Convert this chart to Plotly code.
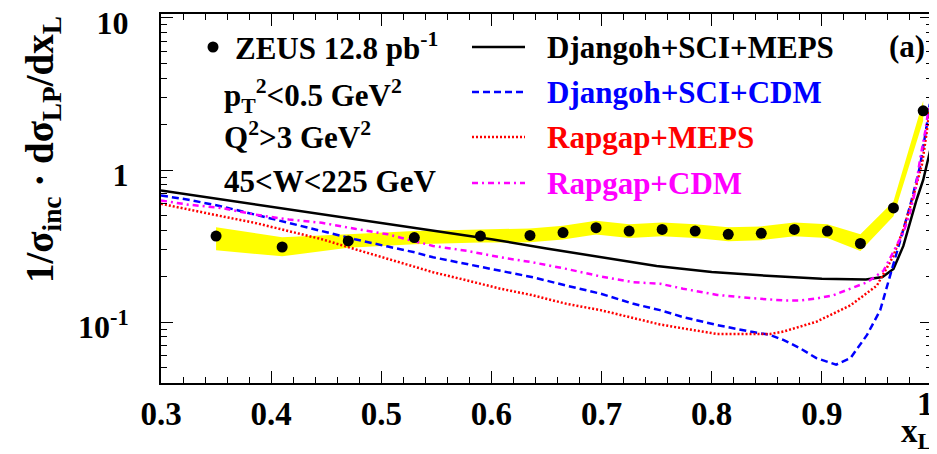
import plotly.graph_objects as go

# ---------------- data ----------------
x_data = [0.35, 0.41, 0.47, 0.53, 0.59, 0.635, 0.665, 0.695, 0.725, 0.755,
          0.785, 0.815, 0.845, 0.875, 0.905, 0.935, 0.965, 0.992]
y_data = [0.368, 0.312, 0.342, 0.360, 0.368, 0.372, 0.388, 0.418, 0.397, 0.407,
          0.397, 0.378, 0.384, 0.407, 0.397, 0.329, 0.564, 2.45]
band_hi = [0.420, 0.362, 0.378, 0.397, 0.407, 0.413, 0.431, 0.464, 0.441, 0.452,
           0.441, 0.420, 0.426, 0.452, 0.441, 0.378, 0.622, 2.85]
band_lo = [0.297, 0.271, 0.308, 0.325, 0.334, 0.335, 0.350, 0.377, 0.358, 0.367,
           0.358, 0.341, 0.346, 0.367, 0.358, 0.294, 0.497, 2.11]

x_dj_meps = [0.30, 0.35, 0.40, 0.45, 0.50, 0.55, 0.60, 0.65, 0.70, 0.75, 0.80,
             0.85, 0.90, 0.94, 0.955, 0.965, 0.974, 0.980, 0.986, 0.992, 0.9967, 0.999]
y_dj_meps = [0.733, 0.648, 0.574, 0.509, 0.451, 0.398, 0.351, 0.305, 0.266, 0.234, 0.214,
             0.202, 0.193, 0.191, 0.198, 0.224, 0.317, 0.45, 0.638, 0.86, 1.22, 1.41]

x_dj_cdm = [0.30, 0.325, 0.355, 0.385, 0.416, 0.446, 0.476, 0.506, 0.531, 0.547, 0.578,
            0.608, 0.638, 0.668, 0.699, 0.729, 0.753, 0.774, 0.805, 0.835, 0.853, 0.865,
            0.880, 0.895, 0.913, 0.926, 0.941, 0.953, 0.962, 0.968, 0.974, 0.980, 0.985,
            0.989, 0.995, 0.998]
y_dj_cdm = [0.680, 0.638, 0.577, 0.510, 0.450, 0.397, 0.351, 0.314, 0.287, 0.267, 0.241,
            0.218, 0.197, 0.174, 0.154, 0.132, 0.120, 0.108, 0.0957, 0.0867, 0.0824, 0.0764,
            0.0675, 0.058, 0.0526, 0.058, 0.0824, 0.120, 0.202, 0.287, 0.40, 0.577, 0.80,
            1.05, 1.91, 2.72]

x_rg_meps = [0.30, 0.325, 0.355, 0.385, 0.416, 0.446, 0.476, 0.506, 0.531, 0.547, 0.578,
             0.608, 0.638, 0.668, 0.699, 0.729, 0.753, 0.774, 0.805, 0.835, 0.853, 0.865,
             0.895, 0.926, 0.950, 0.965, 0.974, 0.983, 0.991, 0.995, 0.998]
y_rg_meps = [0.600, 0.549, 0.497, 0.450, 0.397, 0.351, 0.302, 0.260, 0.229, 0.213, 0.188,
             0.166, 0.150, 0.132, 0.120, 0.106, 0.0966, 0.091, 0.0836, 0.0836, 0.0836, 0.0867,
             0.1006, 0.129, 0.174, 0.273, 0.407, 0.67, 1.10, 1.73, 2.58]

x_rg_cdm = [0.30, 0.325, 0.355, 0.385, 0.416, 0.446, 0.476, 0.506, 0.547, 0.578, 0.608,
            0.638, 0.668, 0.699, 0.729, 0.753, 0.774, 0.805, 0.835, 0.865, 0.880, 0.895,
            0.910, 0.926, 0.941, 0.956, 0.968, 0.974, 0.980, 0.985, 0.989, 0.994, 0.997]
y_rg_cdm = [0.631, 0.592, 0.563, 0.510, 0.473, 0.45, 0.411, 0.378, 0.317, 0.294, 0.267,
            0.247, 0.224, 0.200, 0.183, 0.179, 0.166, 0.151, 0.144, 0.139, 0.139, 0.143,
            0.15, 0.166, 0.183, 0.218, 0.317, 0.388, 0.523, 0.741, 1.16, 1.82, 2.58]

x_tickvals = [0.3, 0.4, 0.5, 0.6, 0.7, 0.8, 0.9]
x_ticktext = ["0.3", "0.4", "0.5", "0.6", "0.7", "0.8", "0.9"]
x_last_tick = "1"          # drawn as an annotation so it is not clipped by the page edge
y_tickvals = [0.1, 1, 10]
y_ticktext = ["10<sup>-1</sup>", "1", "10"]
y_minorvals = [0.05, 0.06, 0.07, 0.08, 0.09, 0.2, 0.3, 0.4, 0.5, 0.6, 0.7, 0.8, 0.9,
               2, 3, 4, 5, 6, 7, 8, 9]

legend_names = ["Djangoh+SCI+MEPS", "Djangoh+SCI+CDM", "Rapgap+MEPS", "Rapgap+CDM"]
legend_colors = ["black", "#0000ff", "#ff0000", "#ff00ff"]
legend_dashes = ["solid", "7px,4px", "2px,2px", "6px,4px,2px,4px"]
info_lines = ["p<sub>T</sub><sup>2</sup><0.5 GeV<sup>2</sup>",
              "Q<sup>2</sup>>3 GeV<sup>2</sup>",
              "45<W<225 GeV"]

FONT = "Liberation Serif"
# the page body has an 8px margin, so the figure is shrunk by that amount
OFF = 8
PAGE_W, PAGE_H = 937, 454
W, H = PAGE_W - OFF, PAGE_H - OFF
PLOT_L, PLOT_R, PLOT_T, PLOT_B = 161, 932, 14, 383   # page pixel frame of the plot area
L, T = PLOT_L - OFF, PLOT_T - OFF
R, B = PAGE_W - PLOT_R, PAGE_H - PLOT_B
PW, PH = PLOT_R - PLOT_L, PLOT_B - PLOT_T


def px(xp):
    return (xp - PLOT_L) / PW


def py(yp):
    return (PLOT_B - yp) / PH


fig = go.Figure()

# systematic band
fig.add_trace(go.Scatter(
    x=x_data + x_data[::-1], y=band_hi + band_lo[::-1],
    fill="toself", fillcolor="#ffff00", line=dict(width=0), mode="lines",
    hoverinfo="skip"))

curves = [(x_dj_meps, y_dj_meps), (x_dj_cdm, y_dj_cdm),
          (x_rg_meps, y_rg_meps), (x_rg_cdm, y_rg_cdm)]
for (xs, ys), name, col, dash in zip(curves, legend_names, legend_colors, legend_dashes):
    fig.add_trace(go.Scatter(x=xs, y=ys, mode="lines", name=name,
                             line=dict(color=col, width=2.5, dash=dash)))

fig.add_trace(go.Scatter(x=x_data, y=y_data, mode="markers", name="ZEUS",
                         marker=dict(color="black", size=11)))

annotations = []
shapes = []
TS = 31
tfont = dict(family=FONT, size=TS, color="black", weight="bold")

# ZEUS legend entry
shapes.append(dict(type="circle", xref="paper", yref="paper",
                   x0=px(213 - 5.5), x1=px(213 + 5.5), y0=py(47 + 5.5), y1=py(47 - 5.5),
                   fillcolor="black", line=dict(width=0)))
annotations.append(dict(text="ZEUS 12.8 pb<sup>-1</sup>", x=px(233), y=py(46),
                        xref="paper", yref="paper", xanchor="left", yanchor="middle",
                        showarrow=False, font=tfont))
for txt, yp in zip(info_lines, [96, 135, 181]):
    annotations.append(dict(text=txt, x=px(222), y=py(yp), xref="paper", yref="paper",
                            xanchor="left", yanchor="middle", showarrow=False, font=tfont))

# model legend
for name, col, dash, yp in zip(legend_names, legend_colors, legend_dashes, [47, 92, 137, 183]):
    shapes.append(dict(type="line", xref="paper", yref="paper",
                       x0=px(472), x1=px(525), y0=py(yp), y1=py(yp),
                       line=dict(color=col, width=2.5, dash=dash)))
    annotations.append(dict(text=name, x=px(545), y=py(yp), xref="paper", yref="paper",
                            xanchor="left", yanchor="middle", showarrow=False,
                            font=dict(family=FONT, size=TS, color=col, weight="bold")))

annotations.append(dict(text="(a)", x=px(907), y=py(46), xref="paper", yref="paper",
                        xanchor="center", yanchor="middle", showarrow=False, font=tfont))

# last x tick label (at the frame's right edge)
annotations.append(dict(text=x_last_tick, x=px(936), y=py(404), xref="paper", yref="paper",
                        xanchor="right", yanchor="middle", showarrow=False,
                        font=dict(family=FONT, size=33, color="black", weight="bold")))

# axis titles
annotations.append(dict(text="1/σ<sub>inc</sub> · dσ<sub>LP</sub>/dx<sub>L</sub>",
                        x=px(42), y=py(150), xref="paper", yref="paper", textangle=-90,
                        xanchor="center", yanchor="middle", showarrow=False,
                        font=dict(family=FONT, size=39, color="black", weight="bold")))
annotations.append(dict(text="x<sub>L</sub>", x=px(935), y=py(433), xref="paper", yref="paper",
                        xanchor="right", yanchor="middle", showarrow=False,
                        font=dict(family=FONT, size=33, color="black", weight="bold")))

fig.update_layout(
    width=W, height=H, margin=dict(l=L, r=R, t=T, b=B, autoexpand=False),
    plot_bgcolor="white", paper_bgcolor="white", showlegend=False,
    annotations=annotations, shapes=shapes,
    xaxis=dict(range=[0.3, 1.0], tickvals=x_tickvals, ticktext=x_ticktext,
               ticks="inside", ticklen=12, tickwidth=1.2, tickcolor="black",
               minor=dict(ticks="inside", dtick=0.02, ticklen=6, tickcolor="black", tickwidth=1),
               showline=True, linecolor="black", linewidth=2, mirror="allticks",
               showgrid=False, zeroline=False, ticklabeloverflow="allow",
               tickfont=dict(family=FONT, size=33, color="black", weight="bold")),
    yaxis=dict(type="log", range=[-1.40, 1.026], tickvals=y_tickvals, ticktext=y_ticktext,
               ticks="inside", ticklen=12, tickwidth=1.2, tickcolor="black",
               minor=dict(ticks="inside", tickvals=y_minorvals, ticklen=6,
                          tickcolor="black", tickwidth=1),
               showline=True, linecolor="black", linewidth=2, mirror="allticks",
               showgrid=False, zeroline=False, ticklabelstandoff=24, ticklabeloverflow="allow",
               ticklabelshift=5,
               tickfont=dict(family=FONT, size=32, color="black", weight="bold")),
)

fig.write_html("out.html")
